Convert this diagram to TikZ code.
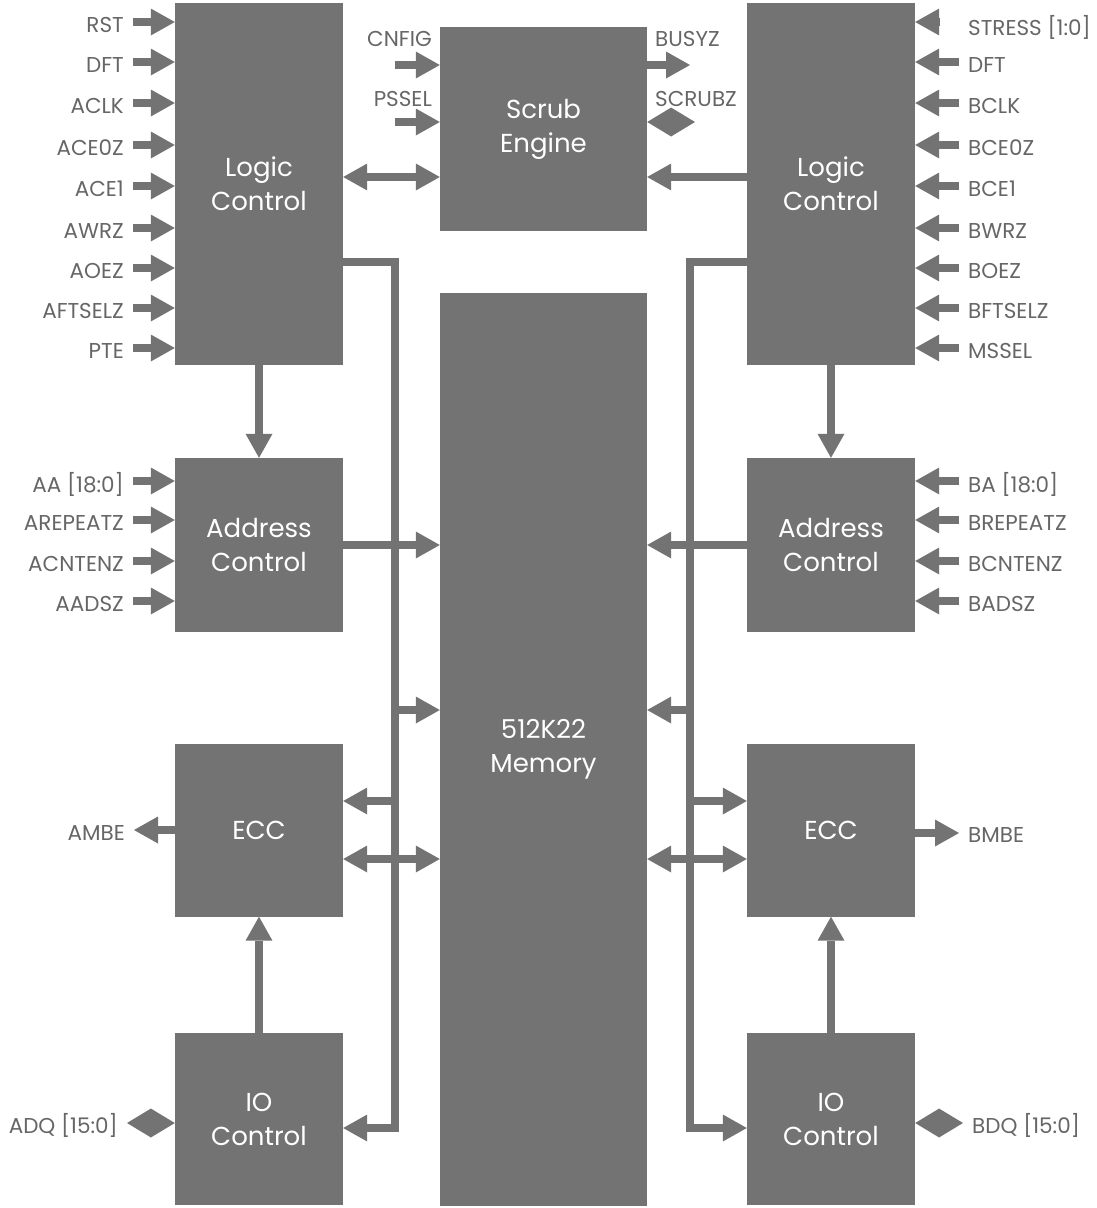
\documentclass[tikz,border=0pt]{standalone}
\usepackage{fontspec}
\setsansfont{Poppins}
\usepackage{tikz}
\usetikzlibrary{arrows.meta, calc}
\definecolor{blockgray}{HTML}{737373}
\definecolor{labelgray}{HTML}{666666}

\begin{document}
\begin{tikzpicture}[
  x=1pt, y=-1pt,
  font=\sffamily,
  block/.style={fill=blockgray, text=white, inner sep=0pt, minimum width=168pt,
    align=center, font=\sffamily\fontsize{26}{34}\selectfont},
  sig/.style={text=labelgray, inner xsep=9pt, inner ysep=0pt,
    font=\sffamily\fontsize{21.5}{24}\selectfont},
  pin/.style={draw=blockgray, line width=7.5pt,
    -{Triangle[length=24pt, width=27pt, line width=0pt]}},
  both/.style={draw=blockgray, line width=7.5pt,
    {Triangle[length=24pt, width=27pt, line width=0pt]}-{Triangle[length=24pt, width=27pt, line width=0pt]}},
  diam/.style={draw=blockgray, line width=7.5pt,
    {Triangle[length=24pt, width=29pt, line width=0pt]}-{Triangle[length=24pt, width=29pt, line width=0pt]}},
]
  \useasboundingbox (0,0) rectangle (1097,1208);

  % blocks
  \node[block, minimum height=362pt] (lctl) at (259,184) {Logic\\Control};
  \node[block, minimum width=207pt, minimum height=204pt] (scrub) at (543.5,129) {Scrub\\Engine};
  \node[block, minimum height=362pt] (rctl) at (831,184) {Logic\\Control};
  \node[block, minimum width=207pt, minimum height=913pt] (mem) at (543.5,749.5) {512K22\\Memory};
  \node[block, minimum height=174pt] (laddr) at (259,545) {Address\\Control};
  \node[block, minimum height=174pt] (raddr) at (831,545) {Address\\Control};
  \node[block, minimum height=173pt] (lecc) at (259,830) {ECC};
  \node[block, minimum height=173pt] (recc) at (831,830) {ECC};
  \node[block, minimum height=172pt] (lio) at (259,1119) {IO\\Control};
  \node[block, minimum height=172pt] (rio) at (831,1119) {IO\\Control};

  % port A inputs
  \foreach \lbl/\y [count=\i] in {RST/22, DFT/62, ACLK/103, ACE0Z/145, ACE1/186,
      AWRZ/228, AOEZ/268, AFTSELZ/308, PTE/348, AA [18:0]/481, AREPEATZ/520,
      ACNTENZ/561, AADSZ/601}{
    \node[sig, anchor=east] (ain\i) at (133,\y+3) {\lbl};
    \ifnum\i<10
      \draw[pin] (ain\i.east |- 0,\y) -- (lctl.west |- 0,\y);
    \else
      \draw[pin] (ain\i.east |- 0,\y) -- (laddr.west |- 0,\y);
    \fi
  }

  % port B inputs
  \foreach \lbl/\y [count=\i] in {DFT/62, BCLK/103, BCE0Z/145, BCE1/186,
      BWRZ/228, BOEZ/268, BFTSELZ/308, MSSEL/348, BA [18:0]/481, BREPEATZ/520,
      BCNTENZ/561, BADSZ/601}{
    \node[sig, anchor=west] (bin\i) at (959,\y+3) {\lbl};
    \ifnum\i<9
      \draw[pin] (bin\i.west |- 0,\y) -- (rctl.east |- 0,\y);
    \else
      \draw[pin] (bin\i.west |- 0,\y) -- (raddr.east |- 0,\y);
    \fi
  }
  \node[sig, anchor=west] (stress) at (959,27) {STRESS [1:0]};
  \coordinate (stressin) at (939,22);
  \draw[pin] (stressin) -- (stressin -| rctl.east);

  % scrub engine pins
  \node[sig, anchor=east] (cnfig) at (441,39) {CNFIG};
  \coordinate (cnfigin) at (395,65);
  \draw[pin] (cnfigin) -- (cnfigin -| scrub.west);
  \node[sig, anchor=east] (pssel) at (441,99) {PSSEL};
  \coordinate (psselin) at (395,122);
  \draw[pin] (psselin) -- (psselin -| scrub.west);
  \node[sig, anchor=west] (busyz) at (646,39) {BUSYZ};
  \coordinate (busyzout) at (690,65);
  \draw[pin] (busyzout -| scrub.east) -- (busyzout);
  \node[sig, anchor=west] (scrubz) at (646,99) {SCRUBZ};
  \coordinate (scrubzio) at (695,122);
  \draw[diam] (scrubzio -| scrub.east) -- (scrubzio);

  \draw[both] (lctl.east |- 0,177) -- (scrub.west |- 0,177);
  \draw[pin] (rctl.west |- 0,177) -- (scrub.east |- 0,177);

  % internal buses
  \coordinate (lbus) at (395,262);
  \coordinate (rbus) at (690,262);
  \draw[pin] (lctl.east |- lbus) -- (lbus) -- (lbus |- 0,1128) -- (lio.east |- 0,1128);
  \draw[pin] (rctl.west |- rbus) -- (rbus) -- (rbus |- 0,1128) -- (rio.west |- 0,1128);

  \draw[pin] (lctl.south) -- (laddr.north);
  \draw[pin] (rctl.south) -- (raddr.north);
  \draw[pin] (lio.north) -- (lecc.south);
  \draw[pin] (rio.north) -- (recc.south);

  \draw[pin] (laddr.east |- 0,545) -- (mem.west |- 0,545);
  \draw[pin] (raddr.west |- 0,545) -- (mem.east |- 0,545);
  \draw[pin] (lbus |- 0,710) -- (mem.west |- 0,710);
  \draw[pin] (rbus |- 0,710) -- (mem.east |- 0,710);
  \draw[pin] (lbus |- 0,801) -- (lecc.east |- 0,801);
  \draw[pin] (rbus |- 0,801) -- (recc.west |- 0,801);
  \draw[both] (lecc.east |- 0,859) -- (mem.west |- 0,859);
  \draw[both] (mem.east |- 0,859) -- (recc.west |- 0,859);

  % outputs
  \node[sig, anchor=east] (ambe) at (134,833) {AMBE};
  \draw[pin] (lecc.west |- 0,830) -- (ambe.east |- 0,830);
  \node[sig, anchor=west] (bmbe) at (959,835) {BMBE};
  \draw[pin] (recc.east |- 0,833) -- (bmbe.west |- 0,833);
  \node[sig, anchor=east] (adq) at (127,1125) {ADQ [15:0]};
  \draw[diam] (lio.west |- 0,1123) -- (adq.east |- 0,1123);
  \node[sig, anchor=west] (bdq) at (963,1125) {BDQ [15:0]};
  \draw[diam] (rio.east |- 0,1123) -- (bdq.west |- 0,1123);
\end{tikzpicture}
\end{document}
